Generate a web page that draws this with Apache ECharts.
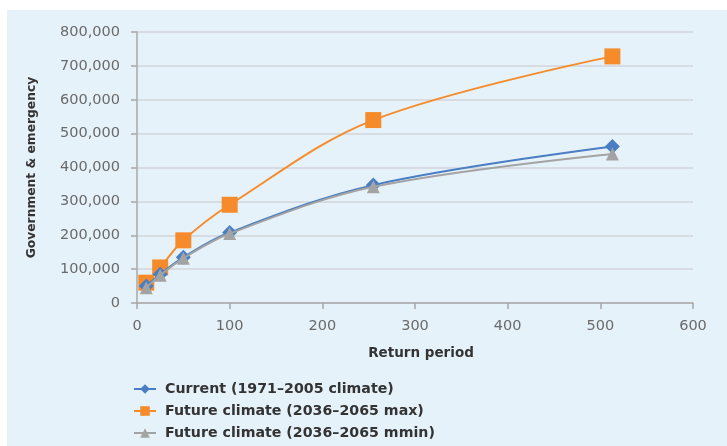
<!DOCTYPE html>
<html>
<head>
<meta charset="utf-8">
<script src="https://cdn.jsdelivr.net/npm/echarts@6/dist/echarts.min.js"></script>
<style>
  html, body { margin: 0; padding: 0; background: #ffffff; }
  #frame { position: absolute; left: 7px; top: 10px; width: 720px; height: 436px; background: #e6f2fa; }
  #chart { position: absolute; left: 0; top: 0; width: 727px; height: 446px; }
</style>
</head>
<body>
<div id="frame"></div>
<div id="chart"></div>
<script>
// Return periods (years) and losses per scenario
const returnPeriods = [10, 25, 50, 100, 255, 513];
const currentClimate = [50000, 85000, 135000, 208000, 348000, 462000];
const futureMax = [60000, 105000, 185000, 290000, 540000, 728000];
const futureMin = [45000, 82000, 132000, 205000, 343000, 440000];

const seriesNames = [
  'Current (1971\u20132005 climate)',
  'Future climate (2036\u20132065 max)',
  'Future climate (2036\u20132065 mmin)'
];

const pairs = (ys) => returnPeriods.map((x, i) => [x, ys[i]]);

const font = 'DejaVu Sans, sans-serif';
const chart = echarts.init(document.getElementById('chart'), null, { renderer: 'canvas' });

function lineSeries(name, data, color, symbol, size, z) {
  return {
    name: name,
    type: 'line',
    data: pairs(data),
    smooth: 0.35,
    symbol: symbol,
    symbolSize: size,
    z: z,
    itemStyle: { color: color },
    lineStyle: { color: color, width: 2 }
  };
}

chart.setOption({
  animation: false,
  textStyle: { fontFamily: font },
  grid: { left: 137, right: 34, top: 32, bottom: 143, containLabel: false },
  xAxis: {
    type: 'value',
    min: 0, max: 600, interval: 100,
    name: 'Return period',
    nameLocation: 'middle',
    nameGap: 43,
    nameTextStyle: { color: '#333', fontWeight: 'bold', fontSize: 13.5, fontFamily: font, padding: [0, 0, 0, 12] },
    axisLine: { show: true, lineStyle: { color: '#a8a8a8', width: 1.5 } },
    axisTick: { show: true, length: 6, lineStyle: { color: '#a8a8a8', width: 1.5 } },
    axisLabel: { color: '#6a6a6a', fontSize: 14.5, margin: 16, fontFamily: font },
    splitLine: { show: false }
  },
  yAxis: {
    type: 'value',
    min: 0, max: 800000, interval: 100000,
    name: 'Government & emergency',
    nameLocation: 'middle',
    nameGap: 99,
    nameRotate: 90,
    nameTextStyle: { color: '#333', fontWeight: 'bold', fontSize: 12.3, fontFamily: font },
    axisLine: { show: true, lineStyle: { color: '#a8a8a8', width: 1.5 } },
    axisTick: { show: true, length: 6, lineStyle: { color: '#a8a8a8', width: 1.5 } },
    axisLabel: { color: '#6a6a6a', fontSize: 14.5, margin: 17, fontFamily: font },
    splitLine: { show: true, lineStyle: { color: '#d0d4d8', width: 1.5 } }
  },
  legend: {
    orient: 'vertical',
    left: 128,
    top: 377,
    itemWidth: 22,
    itemHeight: 12,
    itemGap: 8,
    textStyle: { color: '#333', fontWeight: 'bold', fontSize: 14.2, fontFamily: font, padding: [0, 0, 0, 4] },
    data: seriesNames
  },
  series: [
    lineSeries(seriesNames[0], currentClimate, '#4a7ec4', 'diamond', 15, 3),
    lineSeries(seriesNames[1], futureMax, '#f58b2a', 'rect', 16, 2),
    lineSeries(seriesNames[2], futureMin, '#a3a3a3', 'triangle', 13, 4)
  ]
});
</script>
</body>
</html>
